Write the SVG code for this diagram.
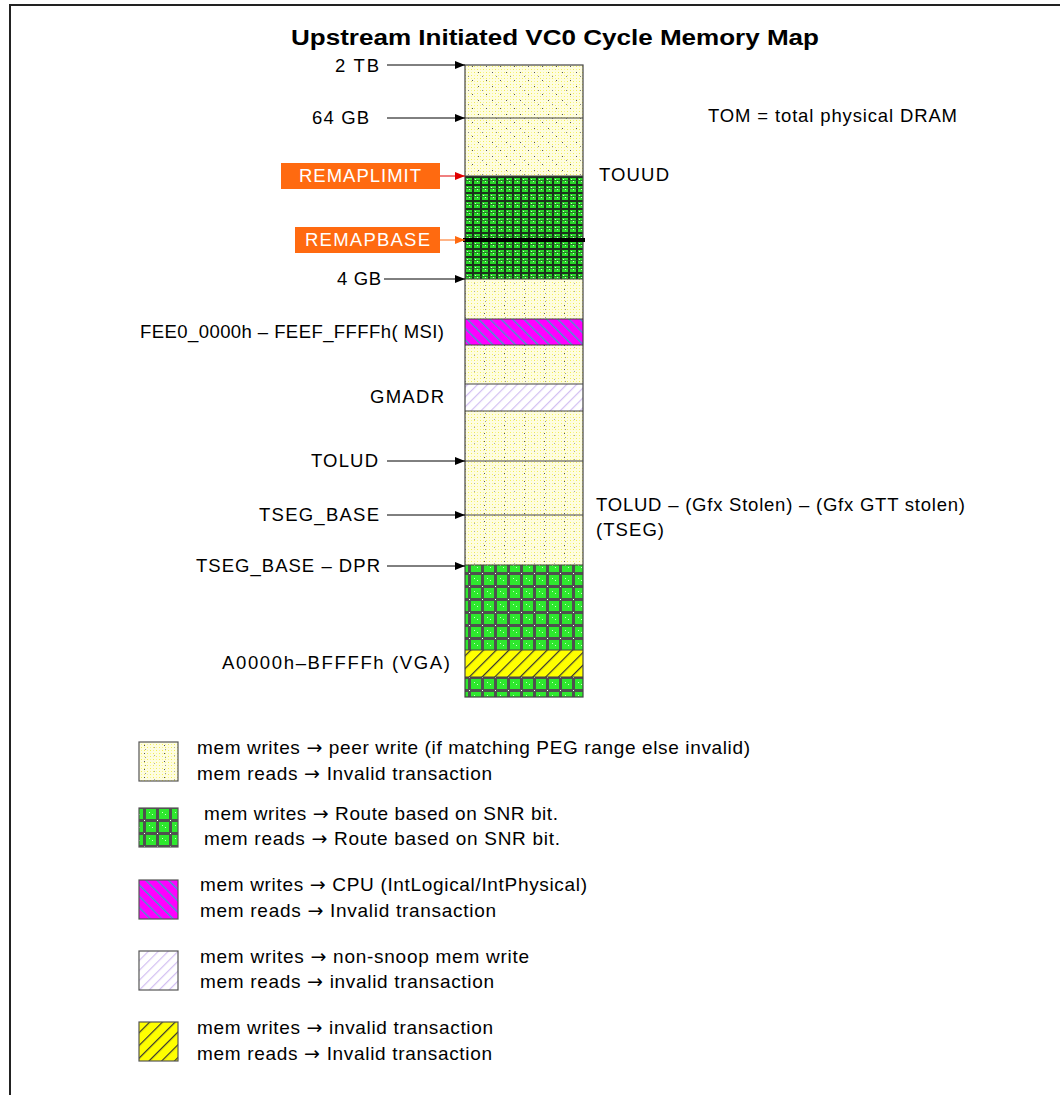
<svg xmlns="http://www.w3.org/2000/svg" width="1060" height="1095" viewBox="0 0 1060 1095">
<style>
text{font-family:"Liberation Sans",Arial,sans-serif;fill:#000}
.lbl{font-size:18.5px}
.r{text-anchor:end}
.lg{font-size:19px}
.ar{font-family:"DejaVu Sans",sans-serif}
.title{font-size:22px;font-weight:bold;text-anchor:middle}
.orange{font-size:18.5px;fill:#fff;text-anchor:middle}
.conn{stroke:#000;stroke-width:1;fill:none}
.col{stroke:#444;stroke-width:1.2;fill:none}
.div{stroke:#444;stroke-width:1.2}
.ybase{fill:#fefde0}
</style>
<defs>
<pattern id="yel" width="6" height="6" patternUnits="userSpaceOnUse">
<rect x="0" y="0" width="1" height="1" fill="#f2ee50"/>
<rect x="3" y="3" width="1" height="1" fill="#f2ee50"/>
<rect x="3" y="0" width="1" height="1" fill="#f7f590"/>
<rect x="0" y="3" width="1" height="1" fill="#f7f590"/>
</pattern>
<pattern id="dots" width="20" height="8" patternUnits="userSpaceOnUse">
<rect x="4" y="1" width="1" height="1" fill="#555"/>
<rect x="5" y="5" width="1" height="1" fill="#999"/>
<rect x="14" y="3" width="1" height="1" fill="#aaa"/>
</pattern>
<pattern id="dotsd" width="14" height="14" patternUnits="userSpaceOnUse">
<rect x="2" y="2" width="1" height="1" fill="#555"/>
<rect x="6" y="6" width="1" height="1" fill="#888"/>
<rect x="10" y="10" width="1" height="1" fill="#555"/>
</pattern>
<pattern id="grn" width="8" height="8" patternUnits="userSpaceOnUse">
<rect width="8" height="8" fill="#28d828"/>
<rect x="3" y="3" width="1" height="1" fill="#c8ffc8"/>
<rect x="5" y="5" width="1" height="1" fill="#c8ffc8"/>
<rect x="0" y="0" width="8" height="2" fill="#1c301c"/>
<rect x="0" y="0" width="2" height="8" fill="#1c301c"/>
<rect x="0" y="4" width="8" height="0.8" fill="#2a5a2a"/>
</pattern>
<pattern id="grn2" width="13" height="13" patternUnits="userSpaceOnUse">
<rect width="13" height="13" fill="#2ee82e"/>
<rect x="6" y="6" width="1" height="1" fill="#c8ffc8"/>
<rect x="9" y="8" width="1" height="1" fill="#c8ffc8"/>
<rect x="0" y="0" width="13" height="3" fill="#505050"/>
<rect x="0" y="0" width="3" height="13" fill="#505050"/>
<rect x="1" y="1" width="1" height="1" fill="#fff"/>
</pattern>
<pattern id="mag" width="8" height="8" patternUnits="userSpaceOnUse" patternTransform="rotate(-45)">
<rect width="8" height="8" fill="#ff00ff"/>
<rect x="0" y="0" width="1.3" height="8" fill="#30a8c8"/>
</pattern>
<pattern id="lav" width="7" height="7" patternUnits="userSpaceOnUse" patternTransform="rotate(45)">
<rect width="7" height="7" fill="#fff"/>
<rect x="0" y="0" width="1.2" height="7" fill="#d2bff2"/>
</pattern>
<pattern id="vga" width="9" height="9" patternUnits="userSpaceOnUse" patternTransform="rotate(45)">
<rect width="9" height="9" fill="#ffff00"/>
<rect x="0" y="0" width="1.2" height="9" fill="#333"/>
</pattern>
<marker id="ah" markerWidth="10" markerHeight="8" refX="10" refY="4" orient="auto" markerUnits="userSpaceOnUse">
<path d="M0,0 L10,4 L0,8 Z" fill="#000"/>
</marker>
<marker id="ahr" markerWidth="10" markerHeight="8" refX="10" refY="4" orient="auto" markerUnits="userSpaceOnUse">
<path d="M0,0 L10,4 L0,8 Z" fill="#e00000"/>
</marker>
<marker id="aho" markerWidth="10" markerHeight="8" refX="10" refY="4" orient="auto" markerUnits="userSpaceOnUse">
<path d="M0,0 L10,4 L0,8 Z" fill="#ff6a10"/>
</marker>
</defs>
<rect x="0" y="0" width="1060" height="1095" fill="#fff"/>
<path d="M10,1100 L10,5 L1065,5" stroke="#222" stroke-width="2" fill="none"/>

<text class="title" x="555" y="45" textLength="528" lengthAdjust="spacingAndGlyphs">Upstream Initiated VC0 Cycle Memory Map</text>

<g id="memory-map">
<rect class="ybase" x="465" y="65" width="118" height="111"/>
<rect x="465" y="65" width="118" height="111" fill="url(#yel)"/>
<rect x="465" y="65" width="118" height="111" fill="url(#dotsd)"/>
<rect x="465" y="176" width="118" height="103" fill="url(#grn)"/>
<rect class="ybase" x="465" y="279" width="118" height="40"/>
<rect x="465" y="279" width="118" height="40" fill="url(#yel)"/>
<rect x="465" y="279" width="118" height="40" fill="url(#dots)"/>
<rect x="465" y="319" width="118" height="26" fill="url(#mag)"/>
<rect class="ybase" x="465" y="345" width="118" height="39"/>
<rect x="465" y="345" width="118" height="39" fill="url(#yel)"/>
<rect x="465" y="345" width="118" height="39" fill="url(#dots)"/>
<rect x="465" y="384" width="118" height="27" fill="url(#lav)"/>
<rect class="ybase" x="465" y="411" width="118" height="154"/>
<rect x="465" y="411" width="118" height="154" fill="url(#yel)"/>
<rect x="465" y="411" width="118" height="154" fill="url(#dots)"/>
<rect x="465" y="565" width="118" height="85" fill="url(#grn2)"/>
<rect x="465" y="650" width="118" height="27" fill="url(#vga)"/>
<rect x="465" y="677" width="118" height="20" fill="url(#grn2)"/>
<line class="div" x1="465" y1="118" x2="583" y2="118"/>
<line class="div" x1="465" y1="176" x2="583" y2="176"/>
<line class="div" x1="465" y1="279" x2="583" y2="279"/>
<line class="div" x1="465" y1="319" x2="583" y2="319"/>
<line class="div" x1="465" y1="345" x2="583" y2="345"/>
<line class="div" x1="465" y1="384" x2="583" y2="384"/>
<line class="div" x1="465" y1="411" x2="583" y2="411"/>
<line class="div" x1="465" y1="461" x2="583" y2="461"/>
<line class="div" x1="465" y1="515" x2="583" y2="515"/>
<line class="div" x1="465" y1="565" x2="583" y2="565"/>
<line class="div" x1="465" y1="650" x2="583" y2="650"/>
<line class="div" x1="465" y1="677" x2="583" y2="677"/>
<rect class="col" x="465" y="65" width="118" height="632"/>
<line x1="463" y1="240" x2="585" y2="240" stroke="#000" stroke-width="4"/>
</g>

<g id="connectors">
<line class="conn" x1="387" y1="65" x2="465" y2="65" marker-end="url(#ah)"/>
<line class="conn" x1="387" y1="118" x2="465" y2="118" marker-end="url(#ah)"/>
<line x1="440" y1="176" x2="465" y2="176" stroke="#e00000" stroke-width="1" marker-end="url(#ahr)"/>
<line x1="440" y1="240" x2="465" y2="240" stroke="#ff6a10" stroke-width="1" marker-end="url(#aho)"/>
<line class="conn" x1="384" y1="279" x2="465" y2="279" marker-end="url(#ah)"/>
<line class="conn" x1="387" y1="461" x2="465" y2="461" marker-end="url(#ah)"/>
<line class="conn" x1="387" y1="515" x2="465" y2="515" marker-end="url(#ah)"/>
<line class="conn" x1="387" y1="566" x2="465" y2="566" marker-end="url(#ah)"/>
</g>

<g id="label-2tb"><text class="lbl r" x="379" y="72" textLength="44">2 TB</text></g>
<g id="label-64gb"><text class="lbl r" x="369" y="124" textLength="57">64 GB</text></g>
<g id="label-remaplimit">
<rect x="281" y="163" width="159" height="26" fill="#ff6a10"/>
<text class="orange" x="360" y="182" textLength="122">REMAPLIMIT</text>
</g>
<g id="label-remapbase">
<rect x="295" y="227" width="145" height="26" fill="#ff6a10"/>
<text class="orange" x="367.5" y="246" textLength="125">REMAPBASE</text>
</g>
<g id="label-4gb"><text class="lbl r" x="381" y="285" textLength="44">4 GB</text></g>
<g id="label-msi"><text class="lbl r" x="444" y="338" textLength="304">FEE0_0000h – FEEF_FFFFh( MSI)</text></g>
<g id="label-gmadr"><text class="lbl r" x="444" y="403" textLength="74">GMADR</text></g>
<g id="label-tolud"><text class="lbl r" x="378" y="467" textLength="67">TOLUD</text></g>
<g id="label-tseg-base"><text class="lbl r" x="379" y="521" textLength="120">TSEG_BASE</text></g>
<g id="label-tseg-dpr"><text class="lbl r" x="380" y="572" textLength="184">TSEG_BASE – DPR</text></g>
<g id="label-vga"><text class="lbl r" x="450" y="669" textLength="228">A0000h–BFFFFh (VGA)</text></g>
<g id="label-touud"><text class="lbl" x="599" y="181" textLength="70">TOUUD</text></g>
<g id="label-tom"><text class="lbl" x="708" y="122" textLength="249">TOM = total physical DRAM</text></g>
<g id="label-tolud-right">
<text class="lbl" x="596" y="511" textLength="369">TOLUD – (Gfx Stolen) – (Gfx GTT stolen)</text>
<text class="lbl" x="596" y="536" textLength="68">(TSEG)</text>
</g>

<g id="legend-peer">
<rect class="ybase" x="139" y="742" width="39" height="39"/>
<rect x="139" y="742" width="39" height="39" fill="url(#yel)"/>
<rect x="139" y="742" width="39" height="39" fill="url(#dots)"/>
<rect x="139" y="742" width="39" height="39" fill="none" stroke="#555" stroke-width="1.2"/>
<text class="lg" x="197" y="754" textLength="553">mem writes <tspan class="ar">→</tspan> peer write (if matching PEG range else invalid)</text>
<text class="lg" x="197" y="780" textLength="295">mem reads <tspan class="ar">→</tspan> Invalid transaction</text>
</g>
<g id="legend-snr">
<rect x="139" y="808" width="39" height="39" fill="url(#grn2)"/>
<rect x="139" y="808" width="39" height="39" fill="none" stroke="#555" stroke-width="1.2"/>
<text class="lg" x="204" y="820" textLength="354">mem writes <tspan class="ar">→</tspan> Route based on SNR bit.</text>
<text class="lg" x="204" y="845" textLength="356">mem reads <tspan class="ar">→</tspan> Route based on SNR bit.</text>
</g>
<g id="legend-cpu">
<rect x="139" y="880" width="39" height="39" fill="url(#mag)"/>
<rect x="139" y="880" width="39" height="39" fill="none" stroke="#555" stroke-width="1.2"/>
<text class="lg" x="200" y="891" textLength="387">mem writes <tspan class="ar">→</tspan> CPU (IntLogical/IntPhysical)</text>
<text class="lg" x="200" y="917" textLength="296">mem reads <tspan class="ar">→</tspan> Invalid transaction</text>
</g>
<g id="legend-nonsnoop">
<rect x="139" y="951" width="39" height="39" fill="url(#lav)"/>
<rect x="139" y="951" width="39" height="39" fill="none" stroke="#555" stroke-width="1.2"/>
<text class="lg" x="200" y="963" textLength="329">mem writes <tspan class="ar">→</tspan> non-snoop mem write</text>
<text class="lg" x="200" y="988" textLength="294">mem reads <tspan class="ar">→</tspan> invalid transaction</text>
</g>
<g id="legend-invalid">
<rect x="139" y="1022" width="39" height="39" fill="url(#vga)"/>
<rect x="139" y="1022" width="39" height="39" fill="none" stroke="#555" stroke-width="1.2"/>
<text class="lg" x="197" y="1034" textLength="296">mem writes <tspan class="ar">→</tspan> invalid transaction</text>
<text class="lg" x="197" y="1060" textLength="295">mem reads <tspan class="ar">→</tspan> Invalid transaction</text>
</g>
</svg>
